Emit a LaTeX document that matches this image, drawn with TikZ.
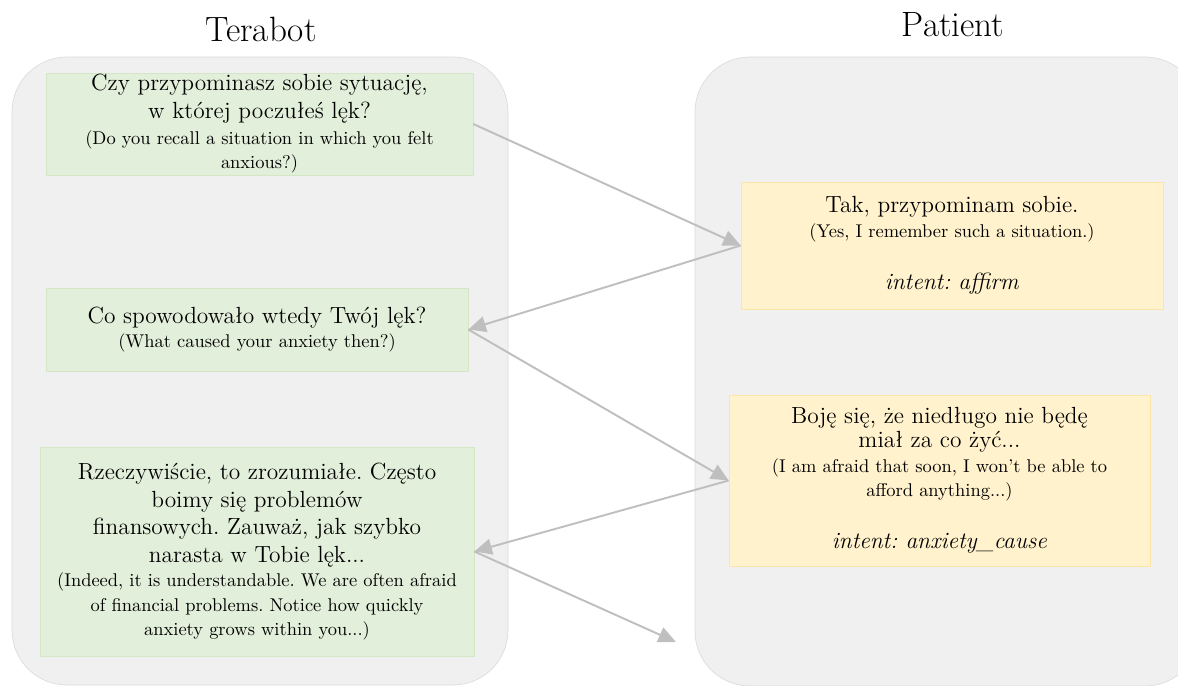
\documentclass[tikz,border=0pt]{standalone}
\usepackage{tikz}
\usetikzlibrary{arrows.meta}

\definecolor{botgreen}{HTML}{E2EFDA}
\definecolor{botline}{HTML}{D3E6C6}
\definecolor{patyellow}{HTML}{FFF2CC}
\definecolor{patline}{HTML}{FBE6A8}
\definecolor{lanefill}{HTML}{F0F0F0}
\definecolor{laneline}{HTML}{DCDCDC}
\definecolor{arrowgray}{HTML}{BFBFBF}

\newcommand{\transl}[1]{{\fontsize{10.5}{13}\selectfont #1}}
\frenchspacing

\begin{document}
\begin{tikzpicture}[x=0.02cm,y=-0.02cm,
    lane/.style={fill=lanefill,draw=laneline,rounded corners=1.1cm},
    bot/.style={rectangle,fill=botgreen,draw=botline,align=center,inner sep=0pt,
      font=\fontsize{13.3}{15.8}\selectfont},
    pat/.style={rectangle,fill=patyellow,draw=patline,align=center,inner sep=0pt,
      font=\fontsize{13.3}{15.8}\selectfont},
    conn/.style={draw=arrowgray,line width=1.1pt,-{Triangle[length=10pt,width=9pt]}}]
                      \useasboundingbox (0,0) rectangle (1178,686);
                      % lanes
                      \draw[lane] (12,57) rectangle (508,685);
                      \draw[lane] (695,57) rectangle (1200,686);
                      \node (terabot) at (261,29) {\fontsize{20}{24}\selectfont Terabot};
                      \node (patient) at (953,25) {\fontsize{20}{24}\selectfont Patient};
                      % Terabot
                      \node (q1) at (259.5,124) [bot,minimum width=8.54cm,minimum height=2.04cm]
                        {Czy przypominasz sobie sytuację,\\ w której poczułeś lęk?\\[-1pt]
                         \transl{(Do you recall a situation in which you felt}\\[-2pt]
                         \transl{anxious?)}};
                      \node (q2) at (257,329.5) [bot,minimum width=8.44cm,minimum height=1.66cm]
                        {Co spowodowało wtedy Twój lęk?\\[-2pt]
                         \transl{(What caused your anxiety then?)}};
                      \node (q3) at (257,551.5) [bot,minimum width=8.68cm,minimum height=4.18cm]
                        {Rzeczywiście, to zrozumiałe. Często\\ boimy się problemów\\
                         finansowych. Zauważ, jak szybko\\ narasta w Tobie lęk...\\[-2pt]
                         \transl{(Indeed, it is understandable. We are often afraid}\\[-2pt]
                         \transl{of financial problems. Notice how quickly}\\[-2pt]
                         \transl{anxiety grows within you...)}};
                      % Patient
                      \node (a1) at (952,245.5) [pat,minimum width=8.44cm,minimum height=2.54cm]
                        {Tak, przypominam sobie.\\[-2pt]
                         \transl{(Yes, I remember such a situation.)}\\[14pt]
                         \textit{intent: affirm}};
                      \node (a2) at (939.5,480.5) [pat,minimum width=8.42cm,minimum height=3.42cm]
                        {Boję się, że niedługo nie będę\\[-2pt] miał za co żyć...\\[-2pt]
                         \transl{(I am afraid that soon, I won't be able to}\\[-2pt]
                         \transl{afford anything...)}\\[14pt]
                         \textit{intent: anxiety\_cause}};
                      \coordinate (next) at (676,642);
                      % turns
                      \draw[conn] (q1.east) -- (a1.west);
                      \draw[conn] (a1.west) -- (q2.east);
                      \draw[conn] (q2.east) -- (a2.west);
                      \draw[conn] (a2.west) -- (q3.east);
                      \draw[conn] (q3.east) -- (next);
                \end{tikzpicture}
\end{document}
